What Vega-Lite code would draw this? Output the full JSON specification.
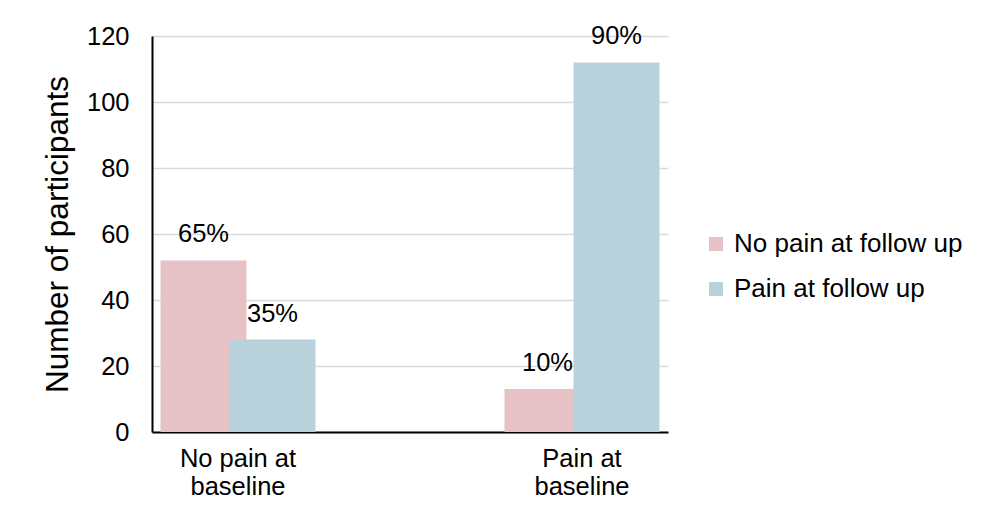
{
  "$schema": "https://vega.github.io/schema/vega-lite/v6.json",
  "autosize": "none",
  "width": 516,
  "height": 396,
  "padding": {"left": 152, "top": 36, "right": 319, "bottom": 89},
  "background": "white",
  "config": {
    "font": "Liberation Sans",
    "view": {"stroke": null}
  },
  "data": {
    "values": [
      {"baseline": "No pain at baseline", "followup": "No pain at follow up", "count": 52, "pct": "65%"},
      {"baseline": "Pain at baseline", "followup": "No pain at follow up", "count": 13, "pct": "10%"},
      {"baseline": "No pain at baseline", "followup": "Pain at follow up", "count": 28, "pct": "35%"},
      {"baseline": "Pain at baseline", "followup": "Pain at follow up", "count": 112, "pct": "90%"}
    ]
  },
  "encoding": {
    "x": {
      "field": "baseline",
      "type": "nominal",
      "sort": ["No pain at baseline", "Pain at baseline"],
      "scale": {"paddingInner": 0.5988, "paddingOuter": 0.0494},
      "axis": {
        "title": null,
        "labelAngle": 0,
        "labelFontSize": 25.5,
        "labelColor": "#000000",
        "labelPadding": 14,
        "labelLineHeight": 28,
        "labelExpr": "datum.label == 'No pain at baseline' ? ['No pain at', 'baseline'] : ['Pain at', 'baseline']",
        "ticks": false,
        "domainColor": "#000000",
        "domainWidth": 2,
        "grid": false
      }
    },
    "xOffset": {
      "field": "followup",
      "type": "nominal",
      "sort": ["No pain at follow up", "Pain at follow up"],
      "scale": {"paddingInner": 0, "paddingOuter": 0}
    },
    "y": {
      "field": "count",
      "type": "quantitative",
      "scale": {"domain": [0, 120], "nice": false},
      "axis": {
        "title": "Number of participants",
        "titleFontSize": 31.5,
        "titleFontWeight": "normal",
        "titleColor": "#000000",
        "titlePadding": 12,
        "values": [0, 20, 40, 60, 80, 100, 120],
        "labelFontSize": 25.5,
        "labelColor": "#000000",
        "labelPadding": 23,
        "ticks": false,
        "domainColor": "#000000",
        "domainWidth": 2,
        "gridColor": "#d9d9d9",
        "gridWidth": 1.5
      }
    }
  },
  "layer": [
    {
      "mark": {"type": "bar", "width": 86},
      "encoding": {
        "color": {
          "field": "followup",
          "type": "nominal",
          "sort": ["No pain at follow up", "Pain at follow up"],
          "scale": {"range": ["#e6c2c6", "#b9d1db"]},
          "legend": {
            "title": null,
            "orient": "none",
            "legendX": 551,
            "legendY": 195,
            "symbolType": "square",
            "symbolSize": 196,
            "symbolStrokeWidth": 0,
            "labelFontSize": 26,
            "labelColor": "#000000",
            "labelOffset": 5,
            "labelLimit": 0,
            "rowPadding": 19
          }
        }
      }
    },
    {
      "mark": {"type": "text", "fontSize": 25.5, "color": "#000000", "baseline": "alphabetic", "dy": -18},
      "encoding": {
        "text": {"field": "pct", "type": "nominal"}
      }
    }
  ]
}
